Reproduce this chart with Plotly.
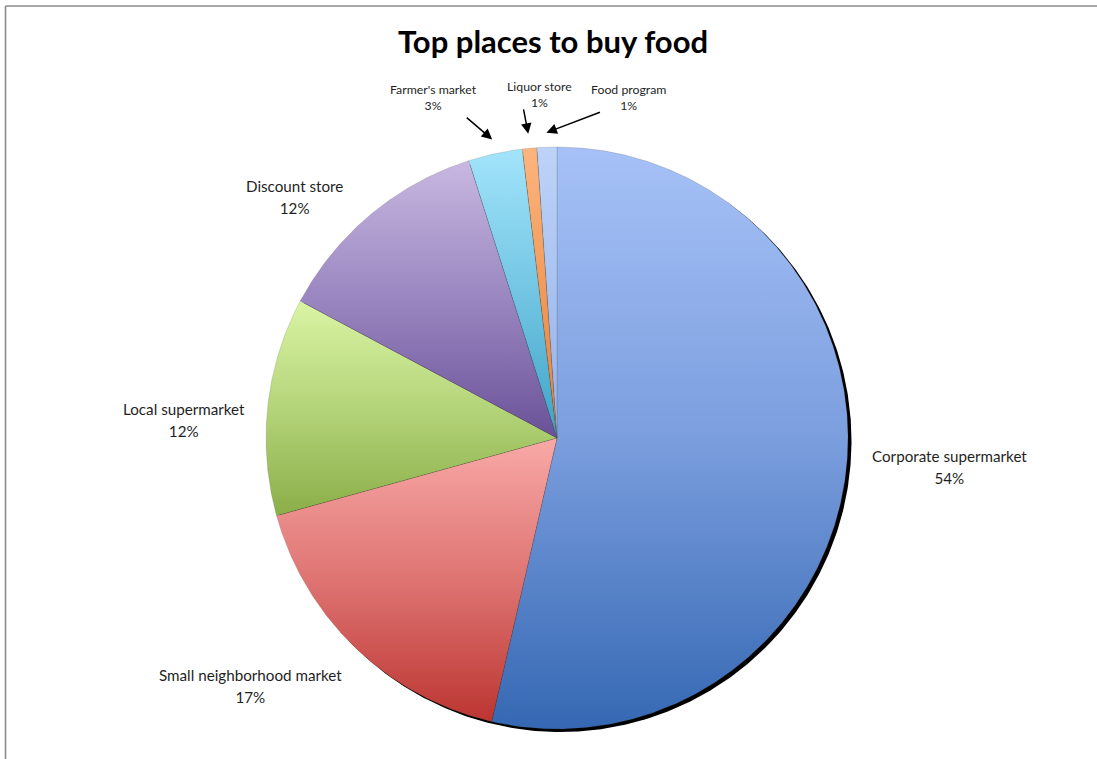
import numpy as np
import plotly.graph_objects as go

# ---- data -------------------------------------------------------------
categories = [
    "Corporate supermarket",
    "Small neighborhood market",
    "Local supermarket",
    "Discount store",
    "Farmer's market",
    "Liquor store",
    "Food program",
]
shares = [53.6, 17.1, 12.1, 12.3, 3.0, 0.8, 1.1]
title_text = "Top places to buy food"

# ---- styling ----------------------------------------------------------
# vertical gradient per slice: bottom -> middle -> top
gradients = [
    ["#3568b3", "#7b9ede", "#a6c1f7"],
    ["#bc3531", "#de7472", "#f8a9a7"],
    ["#8bae48", "#b4d479", "#daf4a4"],
    ["#6a5198", "#9a86c0", "#c8b8e1"],
    ["#3ea3c5", "#72c5e3", "#a2e4fb"],
    ["#e57f38", "#f29a5a", "#fcb47e"],
    ["#93b1e8", "#a8c2f0", "#bdd3f8"],
]
# outside labels: small pixel nudges (right, down) after the radial placement
label_nudge = {
    "Corporate supermarket": (7, -6),
    "Small neighborhood market": (0, 3),
    "Local supermarket": (-3, 16),
    "Discount store": (-15, 18),
}
# callouts for the thin slices: arrow tail (ax, ay) and text shift, in px
callouts = {
    "Farmer's market": dict(ax=-27, ay=-23, dx=-59, dy=42),
    "Liquor store": dict(ax=-5, ay=-26, dx=11, dy=39),
    "Food program": dict(ax=55, ay=-21, dx=82, dy=35),
}

W, H = 1097, 759
CX, CY, R = 557, 438, 291          # pie centre and radius in px
x_range = [-CX / R, (W - CX) / R]  # one data unit == R pixels
y_range = [-(H - CY) / R, CY / R]
FONT = "Lato"
TEXT_COLOR = "#1f1f1f"
BIG_LABEL_PX = 15.2
SMALL_LABEL_PX = 12.3

fig = go.Figure()

# drop shadow behind the pie
t = np.radians(np.linspace(0, 360, 721))
sx, sy = 3.5 / R, -3.0 / R
fig.add_trace(go.Scatter(
    x=np.sin(t) + sx, y=np.cos(t) + sy, mode="lines", fill="toself",
    fillcolor="black", line=dict(width=0), hoverinfo="skip", showlegend=False,
))

total = float(sum(shares))
cum = 0.0
mids = []
for name, v, grad in zip(categories, shares, gradients):
    a0 = cum / total * 360.0
    a1 = (cum + v) / total * 360.0
    cum += v
    mids.append(np.radians((a0 + a1) / 2))
    n = max(int((a1 - a0) * 3), 4)
    ang = np.radians(np.linspace(a0, a1, n + 1))
    xs = np.concatenate([[0.0], np.sin(ang), [0.0]])
    ys = np.concatenate([[0.0], np.cos(ang), [0.0]])
    fig.add_trace(go.Scatter(
        x=xs, y=ys, mode="lines", fill="toself",
        fillgradient=dict(type="vertical",
                          colorscale=[[0, grad[0]], [0.5, grad[1]], [1, grad[2]]]),
        line=dict(width=0.5, color="rgba(70,70,70,0.35)"),
        name=name, hoveron="fills", hoverinfo="name", showlegend=False,
    ))

annotations = []
for name, v, m in zip(categories, shares, mids):
    pct = f"{round(v / total * 100):.0f}%"
    s, c = np.sin(m), np.cos(m)
    if name in callouts:
        co = callouts[name]
        tx, ty = 1.05 * s, 1.05 * c
        annotations.append(dict(
            x=tx, y=ty, xref="x", yref="y", text="", showarrow=True,
            ax=co["ax"], ay=co["ay"], arrowhead=2, arrowsize=1.4,
            arrowwidth=1.5, arrowcolor="black",
        ))
        annotations.append(dict(
            x=tx, y=ty, xref="x", yref="y", showarrow=False,
            xshift=co["dx"], yshift=co["dy"], xanchor="center", yanchor="middle",
            align="center",
            text=(f"<span style='font-size:{SMALL_LABEL_PX}px'>{name}</span><br>"
                  f"<span style='font-size:{SMALL_LABEL_PX}px'>{pct}</span>"),
            font=dict(family=FONT, size=12.3, color=TEXT_COLOR),
        ))
    else:
        r = 1.06
        xa = "left" if s > 0 else "right"
        if abs(c) < 0.35:
            ya = "middle"
        else:
            ya = "bottom" if c > 0 else "top"
        nx, ny = label_nudge.get(name, (0, 0))
        annotations.append(dict(
            x=r * s, y=r * c, xref="x", yref="y", showarrow=False,
            xanchor=xa, yanchor=ya, align="center",
            xshift=nx, yshift=-ny,
            text=(f"<span style='font-size:{BIG_LABEL_PX}px'>{name}</span><br>"
                  f"<span style='font-size:{BIG_LABEL_PX}px'>{pct}</span>"),
            font=dict(family=FONT, size=17, color=TEXT_COLOR),
        ))

# frame lines along the top and left edges
fx, fy = 5.5 / W, 1 - 6.0 / H
shapes = [
    dict(type="line", xref="paper", yref="paper", x0=fx, y0=fy, x1=1, y1=fy,
         line=dict(color="#8c8c8c", width=1.6)),
    dict(type="line", xref="paper", yref="paper", x0=fx, y0=0, x1=fx, y1=fy,
         line=dict(color="#8c8c8c", width=1.6)),
]

fig.update_layout(
    width=W, height=H,
    margin=dict(l=0, r=0, t=0, b=0),
    paper_bgcolor="white", plot_bgcolor="white",
    title=dict(text=f"<b>{title_text}</b>", x=553 / W, xanchor="center",
               y=1 - 42.0 / H, yanchor="middle",
               font=dict(family=FONT, size=31, color="black")),
    xaxis=dict(range=x_range, visible=False, fixedrange=True),
    yaxis=dict(range=y_range, visible=False, fixedrange=True),
    annotations=annotations,
    shapes=shapes,
    showlegend=False,
)

fig.write_html("out.html")
